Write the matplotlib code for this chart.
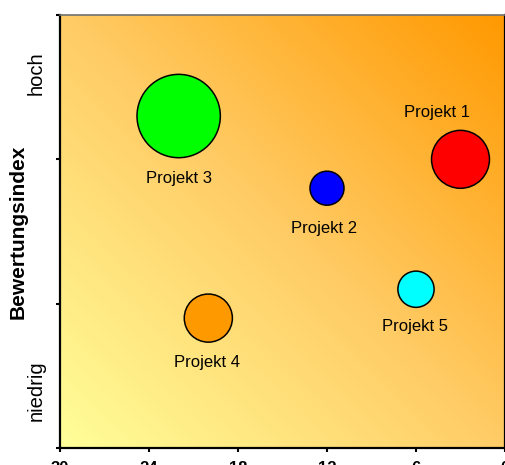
import numpy as np
import matplotlib.pyplot as plt
from matplotlib.colors import LinearSegmentedColormap

plt.rcParams['font.family'] = ['Liberation Sans', 'DejaVu Sans']

# Projektdaten
projekte = ['Projekt 1', 'Projekt 2', 'Projekt 3', 'Projekt 4', 'Projekt 5']
zeit = [3, 12, 22, 20, 6]
bewertung = [2.0, 1.8, 2.3, 0.9, 1.1]
volumen = [87, 30, 180, 60, 34]
farben = ['#ff0000', '#0000ff', '#00ff00', '#ff9900', '#00ffff']

x_ticks = [30, 24, 18, 12, 6, 0]
y_stufen = ['niedrig', 'hoch']

# Versatz der Beschriftungen (Punkte)
versatz = [(-17, 34), (-2, -29), (0, -45), (-1, -32), (-1, -27)]

fig = plt.figure(figsize=(5.06, 4.65), dpi=100)
ax = fig.add_axes([60 / 506, 17 / 465, 445 / 506, 433 / 465])

# Hintergrund mit diagonalem Verlauf
gx, gy = np.meshgrid(np.linspace(0, 1, 300), np.linspace(0, 1, 300))
verlauf = (gx + gy) / 2
cmap = LinearSegmentedColormap.from_list('bg', ['#ffff99', '#ffcc66', '#ff9900'])
ax.imshow(verlauf, cmap=cmap, origin='lower', extent=[30, 0, 0, 3],
          aspect='auto', zorder=0)

ax.scatter(zeit, bewertung, s=np.array(volumen) * 20, c=farben,
           edgecolors='black', linewidths=1.1, zorder=3)

for name, x, y, d in zip(projekte, zeit, bewertung, versatz):
    ax.annotate(name, (x, y), xytext=d, textcoords='offset points',
                ha='center', va='center', fontsize=12, zorder=4)

ax.set_xlim(30, 0)
ax.set_ylim(0, 3)
ax.set_xticks(x_ticks)
ax.set_xticklabels([str(t) for t in x_ticks], fontsize=12, fontweight='bold')
ax.tick_params(axis='x', length=3, width=1.5, pad=6)

ax.set_yticks([0, 1, 2, 3])
ax.set_yticklabels([])
ax.tick_params(axis='y', which='major', length=3, width=1.5)
ax.set_yticks([0.4, 2.6], minor=True)
ax.set_yticklabels(y_stufen, minor=True, rotation=90,
                   va='center', fontsize=14.5)
ax.tick_params(axis='y', which='minor', length=0, pad=10)

ax.set_ylabel('Bewertungsindex', fontsize=15, fontweight='bold')
ax.yaxis.set_label_coords(-32 / 445, 0.5)

for s in ['left', 'bottom']:
    ax.spines[s].set_linewidth(1.6)
ax.spines['top'].set_color('#707070')
ax.spines['top'].set_linewidth(1.2)
ax.spines['right'].set_linewidth(1.6)

fig.savefig('out.png', dpi=100)
